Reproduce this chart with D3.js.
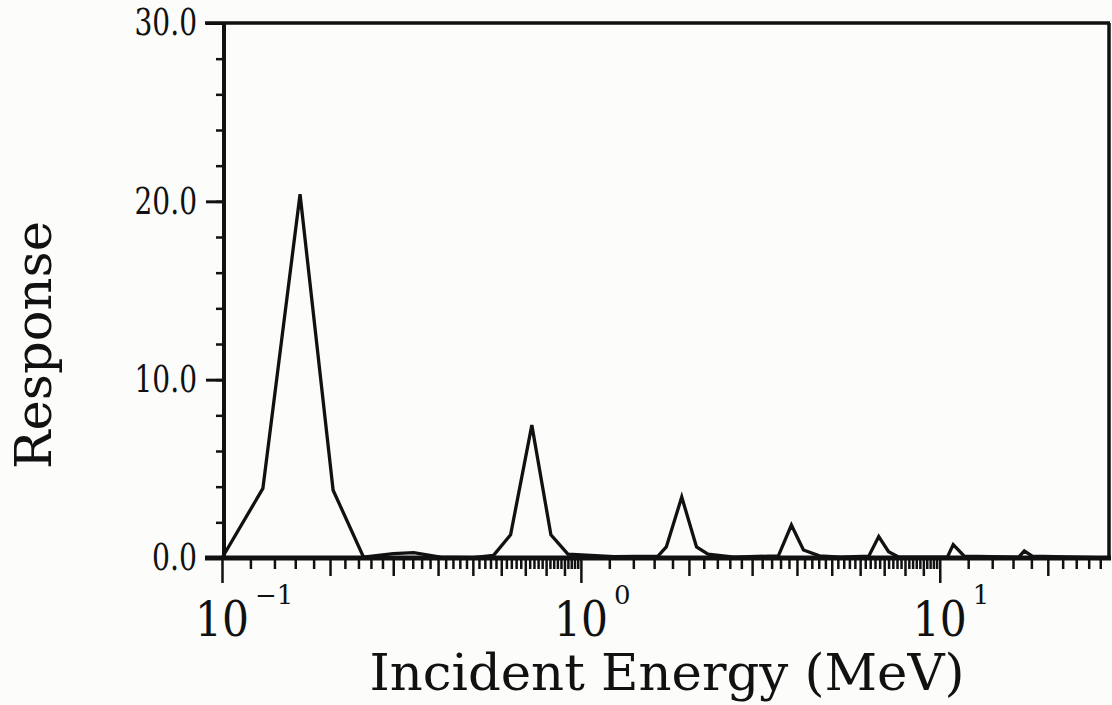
<!DOCTYPE html>
<html>
<head>
<meta charset="utf-8">
<script src="https://cdn.jsdelivr.net/npm/d3@7"></script>
<style>
  body { margin: 0; background: #fcfcfa; }
  svg { display: block; }
  text { font-family: "DejaVu Serif", "Liberation Serif", serif; fill: #111; }
</style>
</head>
<body>
<div id="chart"></div>
<script>
// Incident energy (MeV) and detector response
let energy = [0.1, 0.13, 0.165, 0.204, 0.248, 0.3, 0.342, 0.406, 0.5, 0.571, 0.637, 0.73, 0.825, 0.92, 1.236, 1.64,
    1.73, 1.91, 2.10, 2.26, 2.67, 3.55, 3.86, 4.17, 4.62, 5.3, 6.34, 6.76, 7.2, 7.7, 10.5, 10.9, 11.7, 16.6, 17.2, 18.1, 30];
let response = [0, 3.9, 20.4, 3.8, 0.05, 0.25, 0.3, 0.05, 0.02, 0.15, 1.3, 7.45, 1.3, 0.22, 0.08, 0.1,
    0.62, 3.42, 0.62, 0.22, 0.05, 0.12, 1.85, 0.45, 0.12, 0.05, 0.1, 1.2, 0.35, 0.05, 0.05, 0.75, 0.1, 0.05, 0.4, 0.1, 0];

// axis ticks and labels
let yTickLabels = [0, 10, 20, 30];
let xDecades = [-1, 0, 1];

let svgWidth = 1112;
let svgHeight = 705;

let svg = d3.select('#chart')
    .append('svg')
    .attr('width', svgWidth)
    .attr('height', svgHeight);

let x = d3.scaleLog()
    .domain([0.1, 30])
    .range([222, 1111]);

let y = d3.scaleLinear()
    .domain([0, 30])
    .range([558, 23]);

// x tick positions: every 0.02 in first decade, 0.2 in second, 2 in third
let minorX = [];
[0.1, 1, 10].forEach(function(dec) {
    for (let k = 10; k < 100; k += 2) {
        let v = +(dec * k / 10).toFixed(4);
        if (v < 29 && k % 10 !== 0) minorX.push(v);
    }
});
let midX = [];
[0.1, 1, 10].forEach(function(dec) {
    for (let k = 2; k <= 9; k++) {
        let v = dec * k;
        if (v < 29) midX.push(v);
    }
});
let majorX = xDecades.map(d => Math.pow(10, d));

function addXAxis(vals, size) {
    svg.append('g')
        .attr('transform', 'translate(0,558)')
        .call(d3.axisBottom(x).tickValues(vals).tickSize(size).tickFormat(''))
        .call(g => g.select('.domain').remove())
        .selectAll('line')
        .attr('stroke', '#111')
        .attr('stroke-width', 2.5);
}
addXAxis(minorX, 11);
addXAxis(midX, 18);
addXAxis(majorX, 25);

// y ticks
svg.append('g')
    .attr('transform', 'translate(224,0)')
    .call(d3.axisLeft(y).tickValues(d3.range(0, 31, 2)).tickSize(8).tickFormat(''))
    .call(g => g.select('.domain').remove())
    .selectAll('line')
    .attr('stroke', '#111')
    .attr('stroke-width', 2.5);

let fmt = d3.format('.1f');
let yAxis = svg.append('g')
    .attr('transform', 'translate(224,0)')
    .call(d3.axisLeft(y).tickValues(yTickLabels).tickSize(18).tickPadding(9).tickFormat(fmt));
yAxis.select('.domain').remove();
yAxis.selectAll('line').attr('stroke', '#111').attr('stroke-width', 3);
yAxis.selectAll('text')
    .attr('font-size', 37)
    .attr('fill', '#111')
    .attr('textLength', d => (fmt(d).length - 1) * 17.5 + 10)
    .attr('lengthAdjust', 'spacingAndGlyphs')
    .style('font-family', '"DejaVu Serif", serif');

// frame
let right = 1109;
svg.append('line').attr('x1', 224).attr('x2', 224).attr('y1', y(30)).attr('y2', y(0))
    .attr('stroke', '#111').attr('stroke-width', 4);
svg.append('line').attr('x1', 205).attr('x2', right + 1).attr('y1', y(30)).attr('y2', y(30))
    .attr('stroke', '#111').attr('stroke-width', 3.5);
svg.append('line').attr('x1', right).attr('x2', right).attr('y1', y(30)).attr('y2', y(0))
    .attr('stroke', '#111').attr('stroke-width', 3.5);
svg.append('line').attr('x1', 205).attr('x2', 1111).attr('y1', y(0)).attr('y2', y(0))
    .attr('stroke', '#111').attr('stroke-width', 5);

// response curve
let points = energy.map((e, i) => [e, response[i]]);
svg.append('path')
    .datum(points)
    .attr('fill', 'none')
    .attr('stroke', '#111')
    .attr('stroke-width', 3.3)
    .attr('stroke-linejoin', 'miter')
    .attr('d', d3.line().x(d => Math.min(x(d[0]), right)).y(d => y(d[1])));

// x tick labels 10^n: base centred on the tick, exponent to its upper right
xDecades.forEach(function(d) {
    let cx = x(Math.pow(10, d));
    svg.append('text')
        .attr('x', cx)
        .attr('y', 636)
        .attr('font-size', 48)
        .attr('text-anchor', 'middle')
        .attr('textLength', 54)
        .attr('lengthAdjust', 'spacingAndGlyphs')
        .text('10');
    svg.append('text')
        .attr('x', cx + 33)
        .attr('y', 604)
        .attr('font-size', 26)
        .attr('text-anchor', 'start')
        .text(d < 0 ? '\u22121' : String(d));
});

// axis titles
svg.append('text')
    .attr('x', 667)
    .attr('y', 690)
    .attr('font-size', 50)
    .attr('text-anchor', 'middle')
    .attr('textLength', 595)
    .attr('lengthAdjust', 'spacingAndGlyphs')
    .text('Incident Energy (MeV)');

svg.append('text')
    .attr('transform', 'translate(51,345) rotate(-90)')
    .attr('font-size', 50)
    .attr('text-anchor', 'middle')
    .attr('textLength', 248)
    .attr('lengthAdjust', 'spacingAndGlyphs')
    .text('Response');
</script>
</body>
</html>
